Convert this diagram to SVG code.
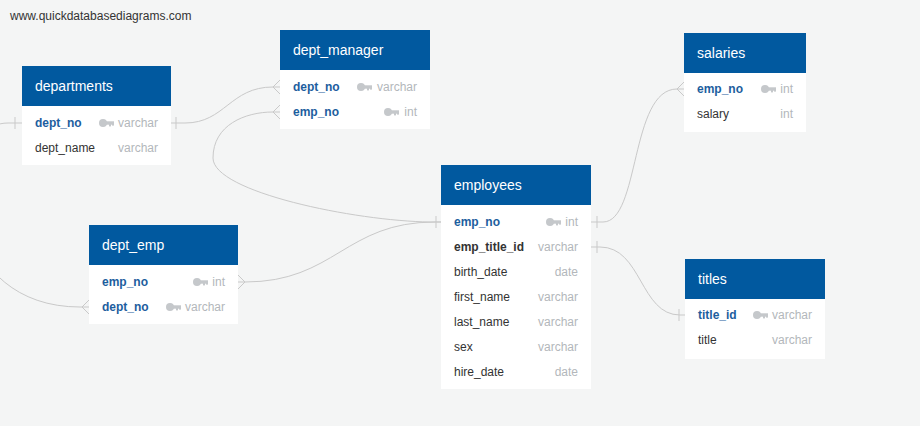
<svg xmlns="http://www.w3.org/2000/svg" width="920" height="426" viewBox="0 0 920 426">
<style>
.bg{fill:#f4f5f5}
.hd{fill:#01599f}
.bd{fill:#ffffff}
.ht{font-family:"Liberation Sans",Arial,sans-serif;font-size:14px;fill:#ffffff}
.pk{font-family:"Liberation Sans",Arial,sans-serif;font-size:12px;font-weight:bold;fill:#1d5e9e}
.fk{font-family:"Liberation Sans",Arial,sans-serif;font-size:12px;font-weight:bold;fill:#333333}
.f{font-family:"Liberation Sans",Arial,sans-serif;font-size:12px;fill:#333333}
.ty{font-family:"Liberation Sans",Arial,sans-serif;font-size:12px;fill:#b3b7bb;text-anchor:end}
.wm{font-family:"Liberation Sans",Arial,sans-serif;font-size:12px;fill:#333333}
.c{fill:none;stroke:#c9c9c9;stroke-width:1}
</style>
<defs>
<g id="key" fill="#c5c8cb">
<circle cx="4" cy="0" r="4"/>
<rect x="6" y="-1.7" width="9" height="3.4"/>
<rect x="10" y="0" width="2" height="3.4"/>
<rect x="13" y="0" width="2" height="2.6"/>
</g>
</defs>
<rect class="bg" x="0" y="0" width="920" height="426"/>
<text class="wm" x="10" y="20">www.quickdatabasediagrams.com</text>

<g id="connectors">
<path class="c" d="M171,123 L185,123 C225,123 230,87 273,87 L280,87"/>
<path class="c" d="M176,117 V129"/>
<path class="c" d="M273,87 L280,80 M273,87 L280,94"/>
<path class="c" d="M441,222 L430,222 C355,221 213,192 213,158 C213,125 245,112 273,112 L280,112"/>
<path class="c" d="M436,216 V228"/>
<path class="c" d="M273,112 L280,105 M273,112 L280,119"/>
<path class="c" d="M22,123 L8,123 C-60,123 -60,307 80,307 L89,307"/>
<path class="c" d="M15,117 V129"/>
<path class="c" d="M82,307 L89,300 M82,307 L89,314"/>
<path class="c" d="M238,282 L245,282 C335,282 345,222 435,222 L441,222"/>
<path class="c" d="M245,282 L238,275 M245,282 L238,289"/>
<path class="c" d="M591,222 L603,222 C640,222 630,89 677,89 L684,89"/>
<path class="c" d="M597,216 V228"/>
<path class="c" d="M677,89 L684,82 M677,89 L684,96"/>
<path class="c" d="M591,247 L600,247 C642,247 640,315 680,315 L685,315"/>
<path class="c" d="M597,241 V253"/>
<path class="c" d="M679,309 V321"/>
</g>

<g id="departments">
<rect class="bd" x="22" y="106" width="149" height="59"/>
<rect class="hd" x="22" y="66" width="149" height="40"/>
<text class="ht" x="35" y="91">departments</text>
<text class="pk" x="35" y="127">dept_no</text>
<use href="#key" x="99" y="123"/>
<text class="ty" x="158" y="127">varchar</text>
<text class="f" x="35" y="152">dept_name</text>
<text class="ty" x="158" y="152">varchar</text>
</g>

<g id="dept_manager">
<rect class="bd" x="280" y="70" width="150" height="59"/>
<rect class="hd" x="280" y="30" width="150" height="40"/>
<text class="ht" x="293" y="55">dept_manager</text>
<text class="pk" x="293" y="91">dept_no</text>
<use href="#key" x="357" y="87"/>
<text class="ty" x="417" y="91">varchar</text>
<text class="pk" x="293" y="116">emp_no</text>
<use href="#key" x="384" y="112"/>
<text class="ty" x="417" y="116">int</text>
</g>

<g id="dept_emp">
<rect class="bd" x="89" y="265" width="149" height="59"/>
<rect class="hd" x="89" y="225" width="149" height="40"/>
<text class="ht" x="102" y="250">dept_emp</text>
<text class="pk" x="102" y="286">emp_no</text>
<use href="#key" x="193" y="282"/>
<text class="ty" x="225" y="286">int</text>
<text class="pk" x="102" y="311">dept_no</text>
<use href="#key" x="166" y="307"/>
<text class="ty" x="225" y="311">varchar</text>
</g>

<g id="employees">
<rect class="bd" x="441" y="205" width="150" height="184"/>
<rect class="hd" x="441" y="165" width="150" height="40"/>
<text class="ht" x="454" y="190">employees</text>
<text class="pk" x="454" y="226">emp_no</text>
<use href="#key" x="546" y="222"/>
<text class="ty" x="578" y="226">int</text>
<text class="fk" x="454" y="251">emp_title_id</text>
<text class="ty" x="578" y="251">varchar</text>
<text class="f" x="454" y="276">birth_date</text>
<text class="ty" x="578" y="276">date</text>
<text class="f" x="454" y="301">first_name</text>
<text class="ty" x="578" y="301">varchar</text>
<text class="f" x="454" y="326">last_name</text>
<text class="ty" x="578" y="326">varchar</text>
<text class="f" x="454" y="351">sex</text>
<text class="ty" x="578" y="351">varchar</text>
<text class="f" x="454" y="376">hire_date</text>
<text class="ty" x="578" y="376">date</text>
</g>

<g id="salaries">
<rect class="bd" x="684" y="73" width="122" height="59"/>
<rect class="hd" x="684" y="33" width="122" height="40"/>
<text class="ht" x="697" y="58">salaries</text>
<text class="pk" x="697" y="93">emp_no</text>
<use href="#key" x="761" y="89"/>
<text class="ty" x="793" y="93">int</text>
<text class="f" x="697" y="118">salary</text>
<text class="ty" x="793" y="118">int</text>
</g>

<g id="titles">
<rect class="bd" x="685" y="299" width="140" height="60"/>
<rect class="hd" x="685" y="259" width="140" height="40"/>
<text class="ht" x="698" y="284">titles</text>
<text class="pk" x="698" y="319">title_id</text>
<use href="#key" x="753" y="315"/>
<text class="ty" x="812" y="319">varchar</text>
<text class="f" x="698" y="344">title</text>
<text class="ty" x="812" y="344">varchar</text>
</g>
</svg>
